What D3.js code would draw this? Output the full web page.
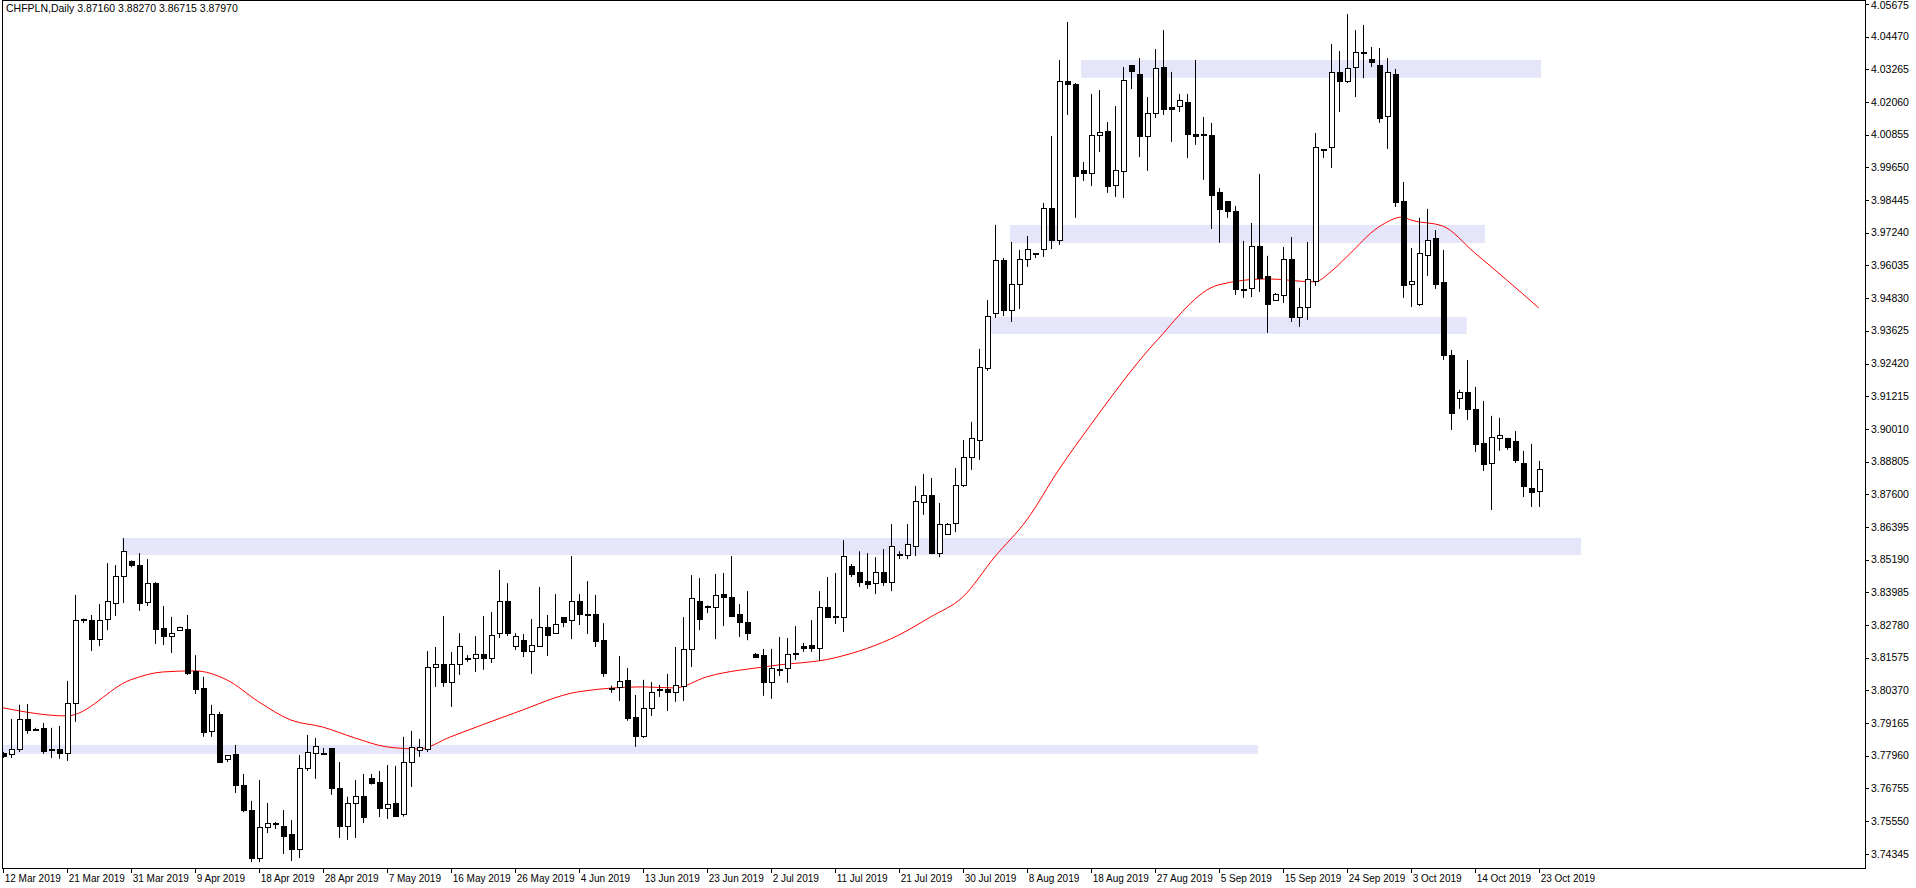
<!DOCTYPE html>
<html>
<head>
<meta charset="utf-8">
<script src="https://cdn.jsdelivr.net/npm/d3@7"></script>
<style>
  body { margin: 0; background: #fff; }
  text { font-family: "Liberation Sans", Arial, sans-serif; font-size: 10.5px; fill: #000; }
</style>
</head>
<body>
<div id="chart"></div>
<script>
// Daily bars, one row per bar: open, high, low, close
var ohlc = [
[3.7803,3.7810,3.7788,3.7792],[3.7799,3.7932,3.7788,3.7818],[3.7818,3.7984,3.7810,3.7928],[3.7928,3.7987,3.7877,3.7891],
[3.7894,3.7899,3.7889,3.7892],[3.7895,3.7917,3.7803,3.7810],[3.7818,3.7899,3.7788,3.7814],[3.7818,3.7906,3.7785,3.7803],
[3.7803,3.8072,3.7777,3.7987],[3.7987,3.8389,3.7921,3.8293],[3.8300,3.8302,3.8285,3.8293],[3.8296,3.8315,3.8182,3.8226],
[3.8226,3.8355,3.8200,3.8296],[3.8300,3.8506,3.8259,3.8366],[3.8359,3.8499,3.8311,3.8458],[3.8458,3.8598,3.8359,3.8550],
[3.8513,3.8516,3.8491,3.8499],[3.8499,3.8543,3.8330,3.8359],[3.8362,3.8521,3.8348,3.8432],[3.8432,3.8436,3.8208,3.8263],
[3.8267,3.8348,3.8204,3.8234],[3.8234,3.8308,3.8175,3.8248],[3.8259,3.8272,3.8256,3.8270],[3.8263,3.8315,3.8094,3.8101],
[3.8108,3.8167,3.8024,3.8039],[3.8043,3.8087,3.7866,3.7880],[3.7884,3.7984,3.7866,3.7950],[3.7950,3.7958,3.7770,3.7773],
[3.7781,3.7799,3.7773,3.7796],[3.7799,3.7836,3.7659,3.7685],[3.7688,3.7729,3.7588,3.7596],[3.7596,3.7630,3.7404,3.7419],
[3.7419,3.7707,3.7404,3.7530],[3.7530,3.7622,3.7511,3.7545],[3.7548,3.7552,3.7526,3.7545],[3.7537,3.7596,3.7434,3.7500],
[3.7504,3.7559,3.7408,3.7449],[3.7452,3.7799,3.7419,3.7748],[3.7748,3.7873,3.7740,3.7807],[3.7803,3.7862,3.7711,3.7829],
[3.7804,3.7825,3.7800,3.7802],[3.7821,3.7825,3.7652,3.7674],[3.7674,3.7773,3.7493,3.7537],[3.7537,3.7645,3.7486,3.7619],
[3.7619,3.7707,3.7493,3.7645],[3.7645,3.7729,3.7548,3.7567],[3.7711,3.7729,3.7690,3.7692],[3.7696,3.7740,3.7570,3.7600],
[3.7600,3.7762,3.7563,3.7615],[3.7619,3.7759,3.7572,3.7574],[3.7581,3.7866,3.7572,3.7773],[3.7773,3.7888,3.7681,3.7825],
[3.7814,3.7858,3.7792,3.7825],[3.7818,3.8182,3.7810,3.8123],[3.8123,3.8197,3.8050,3.8134],[3.8134,3.8311,3.8050,3.8065],
[3.8065,3.8179,3.7976,3.8131],[3.8134,3.8248,3.8094,3.8197],[3.8153,3.8167,3.8142,3.8152],[3.8153,3.8237,3.8105,3.8171],
[3.8171,3.8311,3.8113,3.8153],[3.8153,3.8326,3.8138,3.8241],[3.8248,3.8481,3.8230,3.8366],[3.8366,3.8432,3.8237,3.8245],
[3.8197,3.8248,3.8186,3.8237],[3.8222,3.8245,3.8160,3.8179],[3.8179,3.8300,3.8098,3.8204],[3.8200,3.8418,3.8197,3.8270],
[3.8270,3.8315,3.8164,3.8241],[3.8248,3.8392,3.8245,3.8281],[3.8304,3.8307,3.8270,3.8289],[3.8293,3.8532,3.8226,3.8366],
[3.8366,3.8392,3.8278,3.8315],[3.8316,3.8440,3.8245,3.8314],[3.8315,3.8389,3.8197,3.8219],[3.8222,3.8285,3.8087,3.8098],
[3.8043,3.8054,3.8028,3.8041],[3.8046,3.8164,3.7998,3.8068],[3.8072,3.8120,3.7925,3.7932],[3.7936,3.8020,3.7829,3.7866],
[3.7866,3.8076,3.7862,3.7969],[3.7972,3.8068,3.7943,3.8031],[3.8039,3.8057,3.8013,3.8040],[3.8039,3.8098,3.7961,3.8028],
[3.8031,3.8197,3.7995,3.8054],[3.8050,3.8307,3.7998,3.8186],[3.8186,3.8462,3.8123,3.8374],[3.8366,3.8451,3.8259,3.8300],
[3.8348,3.8350,3.8322,3.8341],[3.8344,3.8466,3.8226,3.8385],[3.8389,3.8470,3.8274,3.8378],[3.8381,3.8532,3.8307,3.8311],
[3.8315,3.8355,3.8234,3.8289],[3.8289,3.8403,3.8222,3.8245],[3.8171,3.8175,3.8157,3.8160],[3.8164,3.8190,3.8017,3.8065],
[3.8065,3.8190,3.8006,3.8116],[3.8113,3.8234,3.8090,3.8111],[3.8116,3.8230,3.8065,3.8168],[3.8172,3.8274,3.8149,3.8170],
[3.8190,3.8212,3.8179,3.8197],[3.8201,3.8296,3.8179,3.8190],[3.8190,3.8403,3.8146,3.8344],[3.8344,3.8455,3.8304,3.8307],
[3.8308,3.8470,3.8282,3.8306],[3.8304,3.8591,3.8252,3.8532],[3.8495,3.8503,3.8455,3.8466],[3.8470,3.8550,3.8418,3.8436],
[3.8440,3.8543,3.8411,3.8429],[3.8432,3.8528,3.8392,3.8473],[3.8473,3.8558,3.8422,3.8436],[3.8436,3.8650,3.8403,3.8569],
[3.8537,3.8550,3.8521,3.8535],[3.8536,3.8650,3.8521,3.8576],[3.8569,3.8791,3.8532,3.8735],[3.8728,3.8835,3.8684,3.8754],
[3.8754,3.8820,3.8539,3.8543],[3.8543,3.8728,3.8528,3.8650],[3.8613,3.8654,3.8610,3.8650],[3.8654,3.8857,3.8620,3.8794],
[3.8794,3.8960,3.8787,3.8897],[3.8897,3.9027,3.8850,3.8967],[3.8960,3.9296,3.8887,3.9229],[3.9222,3.9476,3.9215,3.9417],
[3.9428,3.9753,3.9410,3.9620],[3.9620,3.9631,3.9417,3.9436],[3.9436,3.9690,3.9395,3.9535],[3.9535,3.9661,3.9443,3.9624],
[3.9627,3.9712,3.9598,3.9661],[3.9646,3.9648,3.9631,3.9644],[3.9661,3.9834,3.9635,3.9812],[3.9812,4.0081,3.9664,3.9697],
[3.9697,4.0361,3.9679,4.0283],[4.0283,4.0501,4.0158,4.0272],[4.0269,4.0276,3.9779,3.9933],[3.9955,3.9985,3.9915,3.9941],
[3.9941,4.0236,3.9896,4.0084],[4.0084,4.0250,4.0022,4.0095],[4.0099,4.0132,3.9871,3.9893],[3.9900,4.0191,3.9856,3.9952],
[3.9948,4.0335,3.9852,4.0287],[4.0339,4.0341,4.0254,4.0317],[4.0309,4.0368,4.0003,4.0077],[4.0077,4.0224,3.9952,4.0165],
[4.0162,4.0401,4.0147,4.0331],[4.0335,4.0471,4.0158,4.0180],[4.0184,4.0317,4.0059,4.0177],[4.0188,4.0236,4.0169,4.0210],
[4.0206,4.0236,3.9999,4.0088],[4.0088,4.0361,4.0048,4.0077],[4.0085,4.0151,3.9919,4.0083],[4.0081,4.0129,3.9738,3.9863],
[3.9871,3.9889,3.9687,3.9808],[3.9841,3.9841,3.9779,3.9801],[3.9804,3.9823,3.9495,3.9513],[3.9514,3.9694,3.9484,3.9512],
[3.9517,3.9760,3.9487,3.9675],[3.9672,3.9941,3.9506,3.9554],[3.9561,3.9639,3.9355,3.9458],[3.9476,3.9502,3.9474,3.9495],
[3.9491,3.9672,3.9465,3.9624],[3.9627,3.9708,3.9395,3.9410],[3.9410,3.9521,3.9377,3.9450],[3.9447,3.9690,3.9403,3.9550],
[3.9543,4.0092,3.9528,4.0037],[4.0030,4.0032,4.0000,4.0028],[4.0037,4.0420,3.9963,4.0313],[4.0313,4.0394,4.0169,4.0280],
[4.0280,4.0530,4.0276,4.0331],[4.0335,4.0471,4.0224,4.0387],[4.0390,4.0490,4.0294,4.0383],[4.0364,4.0409,4.0335,4.0350],
[4.0342,4.0405,4.0129,4.0147],[4.0151,4.0368,4.0033,4.0313],[4.0306,4.0328,3.9819,3.9834],[3.9841,3.9911,3.9484,3.9528],
[3.9532,3.9668,3.9450,3.9543],[3.9458,3.9779,3.9454,3.9646],[3.9639,3.9812,3.9565,3.9697],[3.9701,3.9734,3.9517,3.9535],
[3.9539,3.9661,3.9255,3.9273],[3.9273,3.9292,3.8997,3.9056],[3.9112,3.9145,3.9075,3.9134],[3.9134,3.9255,3.9034,3.9071],
[3.9071,3.9156,3.8916,3.8942],[3.8946,3.9104,3.8846,3.8868],[3.8875,3.9049,3.8702,3.8968],[3.8964,3.9042,3.8920,3.8975],
[3.8964,3.8968,3.8924,3.8931],[3.8953,3.8993,3.8875,3.8883],[3.8875,3.8920,3.8750,3.8787],[3.8783,3.8946,3.8713,3.8765],
[3.8769,3.8883,3.8713,3.8853]
];

// Moving average (bar index, price)
var maIndex = [0,8,16,20,24,28,32,36,40,44,48,52,56,64,72,80,84,88,96,104,112,116,120,124,128,132,136,144,152,158,164,166,168,172,175,176,180,184,188,192];
var maValues = [3.7973,3.7943,3.8076,3.8105,3.8109,3.8076,3.7995,3.7928,3.7902,3.7862,3.7829,3.7821,3.7866,3.7954,3.8032,3.8050,3.8046,3.8087,3.8127,3.8157,3.8241,3.8308,3.8381,3.8529,3.8665,3.8850,3.9016,3.9318,3.9532,3.9554,3.9543,3.9580,3.9635,3.9745,3.9782,3.9771,3.9749,3.9650,3.9550,3.9447];

// Support / resistance zones: [from bar, to bar, top price, bottom price]
var zones = [
  [134.8, 192.3, 4.0361, 4.0295],
  [125.9, 185.3, 3.9753, 3.9686],
  [123.0, 183.0, 3.9414, 3.9351],
  [14.9, 197.3, 3.8599, 3.8536],
  [-1, 156.9, 3.7836, 3.7803]
];

var dateLabels = ["12 Mar 2019","21 Mar 2019","31 Mar 2019","9 Apr 2019","18 Apr 2019","28 Apr 2019","7 May 2019",
  "16 May 2019","26 May 2019","4 Jun 2019","13 Jun 2019","23 Jun 2019","2 Jul 2019","11 Jul 2019","21 Jul 2019",
  "30 Jul 2019","8 Aug 2019","18 Aug 2019","27 Aug 2019","5 Sep 2019","15 Sep 2019","24 Sep 2019","3 Oct 2019",
  "14 Oct 2019","23 Oct 2019"];
var labelStep = 8;

var priceTicks = [4.05675,4.04470,4.03265,4.02060,4.00855,3.99650,3.98445,3.97240,3.96035,3.94830,3.93625,3.92420,
  3.91215,3.90010,3.88805,3.87600,3.86395,3.85190,3.83985,3.82780,3.81575,3.80370,3.79165,3.77960,3.76755,3.75550,3.74345];

var header = "CHFPLN,Daily  3.87160 3.88270 3.86715 3.87970";

var W = 1916, H = 888;
var plotRight = 1865, plotBottom = 868;

var svg = d3.select("#chart").append("svg")
    .attr("width", W).attr("height", H);

var x = d3.scaleLinear().domain([0, 192]).range([2.7, 2.7 + 8 * 192]);
var y = d3.scaleLinear().domain([4.0582, 3.7633]).range([0, 800]);

var plot = svg.append("g");
plot.append("clipPath").attr("id", "clip")
  .append("rect").attr("x", 2).attr("y", 0).attr("width", plotRight - 2).attr("height", plotBottom);
var inner = plot.append("g").attr("clip-path", "url(#clip)");

// zones
inner.selectAll("rect.zone").data(zones).enter().append("rect")
    .attr("x", function(d) { return x(d[0]); })
    .attr("width", function(d) { return x(d[1]) - x(d[0]); })
    .attr("y", function(d) { return y(d[2]); })
    .attr("height", function(d) { return y(d[3]) - y(d[2]); })
    .attr("fill", "#e6e6fa");

// moving average
var maLine = d3.line()
    .x(function(d, i) { return x(maIndex[i]); })
    .y(function(d) { return y(d); })
    .curve(d3.curveMonotoneX);
inner.append("path").datum(maValues)
    .attr("d", maLine).attr("fill", "none").attr("stroke", "red").attr("stroke-width", 1);

// candles
var candles = inner.selectAll("g.c").data(ohlc).enter().append("g");
candles.append("line")
    .attr("x1", function(d, i) { return Math.round(x(i)) + 0.5; })
    .attr("x2", function(d, i) { return Math.round(x(i)) + 0.5; })
    .attr("y1", function(d) { return y(d[1]); })
    .attr("y2", function(d) { return y(d[2]); })
    .attr("stroke", "#000");
candles.append("rect")
    .attr("x", function(d, i) { return Math.round(x(i)) - 2; })
    .attr("width", 5)
    .attr("y", function(d) { return y(Math.max(d[0], d[3])); })
    .attr("height", function(d) { return Math.max(1, Math.abs(y(d[0]) - y(d[3]))); })
    .attr("fill", function(d) { return d[3] < d[0] || Math.abs(y(d[0]) - y(d[3])) < 2 ? "#000" : "#fff"; })
    .attr("stroke", "#000")
    .attr("stroke-width", 1)
    .attr("shape-rendering", "crispEdges");

// frame
svg.append("rect").attr("x", 2.5).attr("y", 0.5)
    .attr("width", plotRight - 2.5).attr("height", plotBottom - 0.5)
    .attr("fill", "none").attr("stroke", "#000").attr("shape-rendering", "crispEdges");

// price axis
var py = svg.append("g");
py.selectAll("line").data(priceTicks).enter().append("line")
    .attr("x1", plotRight).attr("x2", plotRight + 4)
    .attr("y1", function(d) { return Math.round(y(d)) + 0.5; })
    .attr("y2", function(d) { return Math.round(y(d)) + 0.5; })
    .attr("stroke", "#000");
py.selectAll("text").data(priceTicks).enter().append("text")
    .attr("x", plotRight + 6)
    .attr("y", function(d) { return Math.max(y(d), 5); })
    .attr("dy", "0.35em")
    .text(function(d) { return d.toFixed(5); });

// date axis
var dx = svg.append("g");
dx.selectAll("line").data(dateLabels).enter().append("line")
    .attr("x1", function(d, i) { return Math.round(x(i * labelStep)) + 0.5; })
    .attr("x2", function(d, i) { return Math.round(x(i * labelStep)) + 0.5; })
    .attr("y1", plotBottom).attr("y2", plotBottom + 5)
    .attr("stroke", "#000");
dx.selectAll("text").data(dateLabels).enter().append("text")
    .attr("x", function(d, i) { return x(i * labelStep) + 2; })
    .attr("y", plotBottom + 14)
    .style("font-size", "10px")
    .text(function(d) { return d; });

svg.append("text").attr("x", 6).attr("y", 12).text(header);
</script>
</body>
</html>
